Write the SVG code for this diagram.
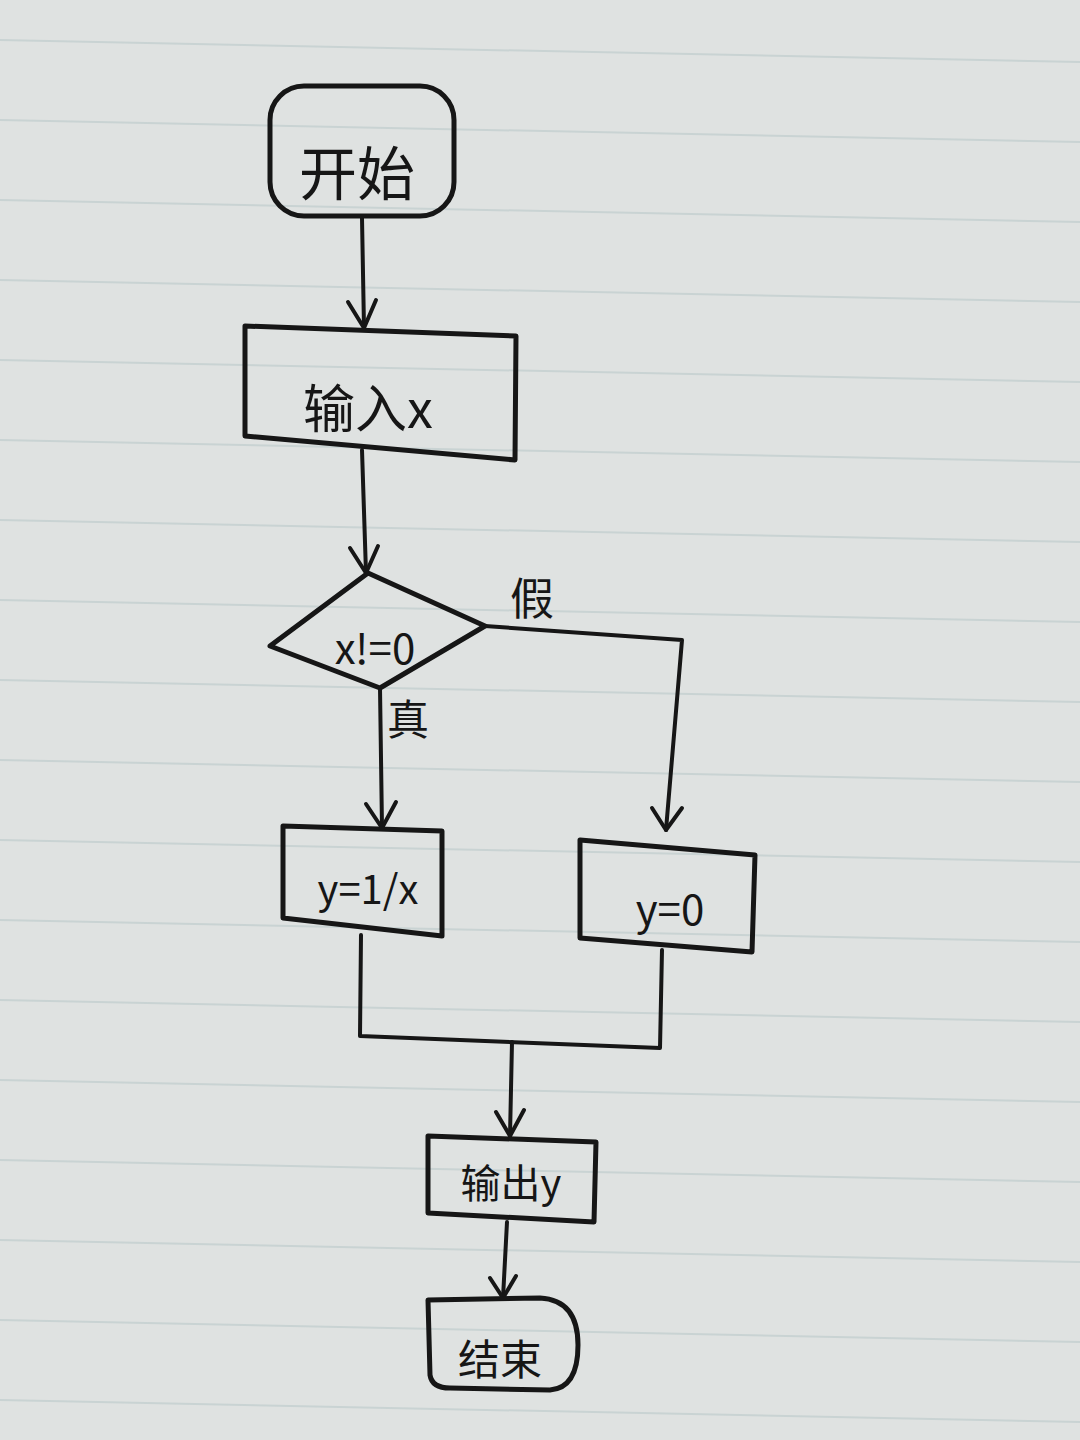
<svg xmlns="http://www.w3.org/2000/svg" width="1080" height="1440" viewBox="0 0 1080 1440">
<defs>
<style>
.box{fill:none;stroke:#161616;stroke-width:5;stroke-linejoin:round;stroke-linecap:round}
.ln{fill:none;stroke:#161616;stroke-width:4;stroke-linecap:round;stroke-linejoin:round}
.ah{fill:none;stroke:#161616;stroke-width:4;stroke-linecap:round;stroke-linejoin:round}
.t{font-family:"Noto Sans CJK SC","Liberation Sans",sans-serif;fill:#161616;text-anchor:middle}
.rule{stroke:#c9d3d3;stroke-width:2}
</style>
</defs>
<rect width="1080" height="1440" fill="#dfe2e1"/>
<g id="paper-lines">
<line class="rule" x1="0" y1="40" x2="1080" y2="62"/>
<line class="rule" x1="0" y1="120" x2="1080" y2="142"/>
<line class="rule" x1="0" y1="200" x2="1080" y2="222"/>
<line class="rule" x1="0" y1="280" x2="1080" y2="302"/>
<line class="rule" x1="0" y1="360" x2="1080" y2="382"/>
<line class="rule" x1="0" y1="440" x2="1080" y2="462"/>
<line class="rule" x1="0" y1="520" x2="1080" y2="542"/>
<line class="rule" x1="0" y1="600" x2="1080" y2="622"/>
<line class="rule" x1="0" y1="680" x2="1080" y2="702"/>
<line class="rule" x1="0" y1="760" x2="1080" y2="782"/>
<line class="rule" x1="0" y1="840" x2="1080" y2="862"/>
<line class="rule" x1="0" y1="920" x2="1080" y2="942"/>
<line class="rule" x1="0" y1="1000" x2="1080" y2="1022"/>
<line class="rule" x1="0" y1="1080" x2="1080" y2="1102"/>
<line class="rule" x1="0" y1="1160" x2="1080" y2="1182"/>
<line class="rule" x1="0" y1="1240" x2="1080" y2="1262"/>
<line class="rule" x1="0" y1="1320" x2="1080" y2="1342"/>
<line class="rule" x1="0" y1="1400" x2="1080" y2="1422"/>
</g>
<g id="connectors">
<line class="ln" x1="362" y1="218" x2="364" y2="328"/>
<polyline class="ah" points="348,302 364,328 376,300"/>
<line class="ln" x1="362" y1="450" x2="366" y2="573"/>
<polyline class="ah" points="350,548 366,573 378,546"/>
<polyline class="ln" points="485,626 682,640 666,830"/>
<polyline class="ah" points="652,808 666,830 682,808"/>
<line class="ln" x1="380" y1="688" x2="382" y2="828"/>
<polyline class="ah" points="366,804 382,828 396,802"/>
<polyline class="ln" points="361,935 360,1036 660,1048 662,950"/>
<line class="ln" x1="512" y1="1042" x2="510" y2="1136"/>
<polyline class="ah" points="496,1112 510,1136 524,1110"/>
<line class="ln" x1="507" y1="1222" x2="503" y2="1298"/>
<polyline class="ah" points="490,1278 503,1298 516,1276"/>
</g>
<g id="start">
<rect class="box" x="270" y="86" width="184" height="130" rx="34"/>
<text class="t" x="357" y="195" font-size="58">开始</text>
</g>
<g id="input">
<polygon class="box" points="245,326 516,336 515,460 245,436"/>
<text class="t" x="368" y="428" font-size="52">输入x</text>
</g>
<g id="decision">
<polygon class="box" points="368,573 485,626 380,688 270,646"/>
<text class="t" x="375" y="664" font-size="42">x!=0</text>
</g>
<g id="label-false">
<text class="t" x="532" y="615" font-size="44">假</text>
</g>
<g id="label-true">
<text class="t" x="408" y="735" font-size="42">真</text>
</g>
<g id="assign-true">
<polygon class="box" points="283,826 442,831 442,936 283,918"/>
<text class="t" x="368" y="904" font-size="40">y=1/x</text>
</g>
<g id="assign-false">
<polygon class="box" points="580,840 755,855 752,952 580,938"/>
<text class="t" x="670" y="925" font-size="42">y=0</text>
</g>
<g id="output">
<polygon class="box" points="428,1136 596,1142 594,1222 428,1213"/>
<text class="t" x="511" y="1198" font-size="40">输出y</text>
</g>
<g id="end">
<path class="box" d="M428,1300 L430,1375 Q432,1388 450,1388 L550,1390 Q578,1388 578,1345 Q578,1300 540,1298 Z"/>
<text class="t" x="500" y="1375" font-size="42">结束</text>
</g>
</svg>
